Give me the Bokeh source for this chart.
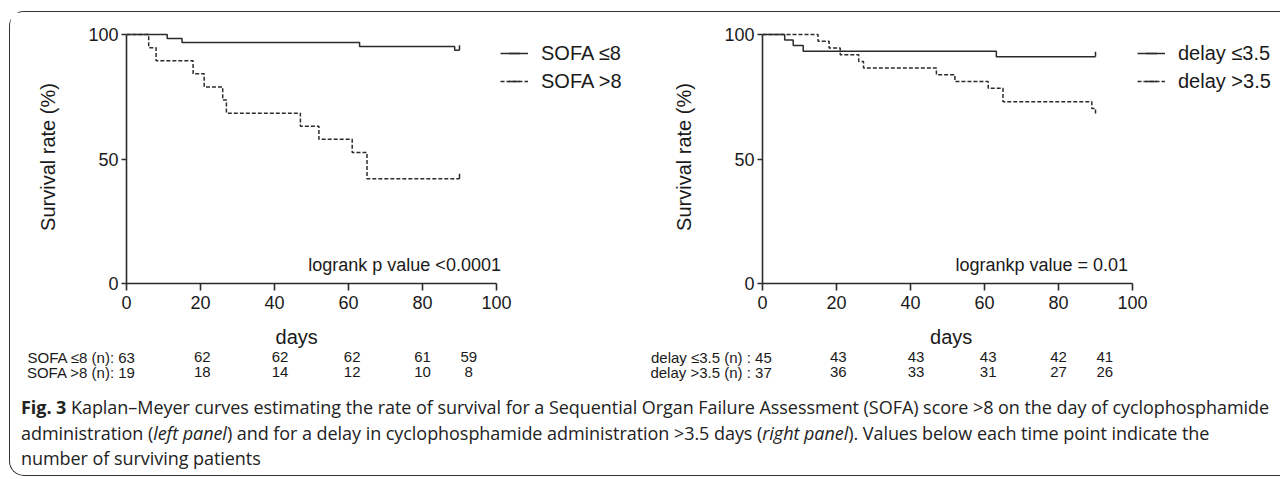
import numpy as np
from bokeh.plotting import figure
from bokeh.models import Range1d, FixedTicker, Legend, LegendItem, Label, Div
from bokeh.layouts import column, row
from bokeh.core.properties import value
from bokeh.embed import file_html
from bokeh.resources import INLINE

# ---------------- data ----------------
day_ticks = [0, 20, 40, 60, 80, 100]
surv_ticks = [0, 50, 100]

# left panel: SOFA
sofa_le8_time = [0, 11, 15, 63, 88.7, 90]
sofa_le8_surv = [100, 98.4, 96.8, 95.2, 93.7, 93.7]
sofa_gt8_time = [0, 6, 8, 18, 21, 26, 27, 47, 52, 61, 65, 90]
sofa_gt8_surv = [100, 94.7, 89.5, 84.2, 78.9, 73.7, 68.4, 63.2, 57.9, 52.6, 42.1, 42.1]
sofa_censor_time = [[90], [90]]
sofa_censor_surv = [[93.7], [42.1]]

# right panel: delay
delay_le_time = [0, 6, 8.3, 11, 63.2, 90]
delay_le_surv = [100, 97.8, 95.6, 93.3, 91.1, 91.1]
delay_gt_time = [0, 15, 18, 21, 26, 27.3, 47, 52, 61, 65, 89, 90]
delay_gt_surv = [100, 97.3, 94.6, 91.9, 89.2, 86.5, 83.8, 81.1, 78.4, 73.0, 70.3, 67.6]
delay_censor_time = [[90], []]
delay_censor_surv = [[91.1], []]

# numbers at risk
risk_points = [0, 20, 40, 60, 80, 90]
sofa_labels = ["SOFA \u22648", "SOFA >8"]
sofa_risk_prefix = ["SOFA \u22648 (n): ", "SOFA >8 (n): "]
sofa_risk = [[63, 62, 62, 62, 61, 59], [19, 18, 14, 12, 10, 8]]
delay_labels = ["delay \u22643.5", "delay >3.5"]
delay_risk_prefix = ["delay \u22643.5 (n) : ", "delay >3.5 (n) : "]
delay_risk = [[45, 43, 43, 43, 42, 41], [37, 36, 33, 31, 27, 26]]

sofa_logrank = "logrank p value <0.0001"
delay_logrank = "logrankp value = 0.01"

# ---------------- style / layout ----------------
FONT = "Liberation Sans"
INK = "#2b2b2b"
TXT = "#1a1a1a"
PX_DAY = 3.70
PX_PCT = 2.49
TOP = 18
FRAME_H = 253
BOTTOM = 35
H = TOP + FRAME_H + BOTTOM
TABLE_H = 66
# drawn column positions of the at-risk numbers (days)
risk_draw_x = [2.5, 20.5, 41.5, 61, 80, 92.5]
table_row_y = [27.5, 12.5]
days_y = 47.5


def panel(width, border_left, curves, censors, labels, prefixes, risk, logrank, logrank_x,
          legend_x, days_x):
    frame_w = width - border_left
    p = figure(width=width, height=H,
               x_range=Range1d(0, frame_w / PX_DAY),
               y_range=Range1d(0, FRAME_H / PX_PCT),
               min_border_left=border_left, min_border_right=0,
               min_border_top=TOP, min_border_bottom=BOTTOM,
               output_backend="svg", toolbar_location=None)
    p.background_fill_color = "white"
    p.border_fill_color = "white"
    p.outline_line_color = None
    p.xgrid.visible = False
    p.ygrid.visible = False

    p.xaxis.ticker = FixedTicker(ticks=day_ticks)
    p.yaxis.ticker = FixedTicker(ticks=surv_ticks)
    p.xaxis.bounds = (0, 100)
    p.yaxis.bounds = (0, 100)
    for ax in (p.xaxis[0], p.yaxis[0]):
        ax.axis_line_color = INK
        ax.axis_line_width = 1.6
        ax.major_tick_line_color = INK
        ax.major_tick_line_width = 1.6
        ax.minor_tick_line_color = None
        ax.major_tick_in = 0
        ax.major_label_text_font = FONT
        ax.major_label_text_font_size = "18px"
        ax.major_label_text_color = TXT
        ax.axis_label_text_font = FONT
        ax.axis_label_text_font_size = "20px"
        ax.axis_label_text_font_style = "normal"
        ax.axis_label_text_color = TXT
    p.xaxis.major_tick_out = 7
    p.yaxis.major_tick_out = 5
    p.xaxis.major_label_standoff = 5
    p.yaxis.major_label_standoff = 3
    p.yaxis.axis_label = "Survival rate (%)"
    p.yaxis.axis_label_standoff = 26

    dashes = ["solid", "4 2"]
    items = []
    for i, (t, s) in enumerate(curves):
        r = p.step(t, s, mode="after", line_color=INK, line_width=1.5, line_dash=dashes[i])
        ct, cs = censors[i]
        if ct:
            p.segment(x0=ct, y0=cs, x1=ct, y1=[v + 2.0 for v in cs], line_color=INK, line_width=1.5)
        tick = p.scatter(x=[np.nan], y=[np.nan], marker="dash", angle=np.pi / 2, size=7,
                         line_color=INK, line_width=1.5)
        items.append(LegendItem(label=labels[i], renderers=[r, tick]))

    leg = Legend(items=items, location=(legend_x, 188), glyph_width=28, glyph_height=28,
                 spacing=0, padding=0, margin=0, label_standoff=13,
                 label_text_font=FONT, label_text_font_size="20px", label_text_color=TXT,
                 border_line_alpha=0, background_fill_alpha=0)
    p.add_layout(leg)

    p.add_layout(Label(x=logrank_x, y=7.4, text=logrank, text_font=FONT, text_font_size="18px",
                       text_align="right", text_baseline="middle", text_color=TXT))

    # table of numbers at risk, on the same day scale
    t = figure(width=width, height=TABLE_H,
               x_range=Range1d(-border_left / PX_DAY, frame_w / PX_DAY),
               y_range=Range1d(0, TABLE_H),
               min_border=0, output_backend="svg", toolbar_location=None)
    t.axis.visible = False
    t.grid.visible = False
    t.outline_line_color = None
    t.background_fill_color = "white"
    t.border_fill_color = "white"
    t.text(x=[days_x], y=[days_y], text=["days"], text_font=value(FONT), text_font_size=value("20px"),
           text_align="center", text_baseline="middle", text_color=TXT)
    for r_i in range(2):
        xs, ys, txts = [], [], []
        for c_i, n in enumerate(risk[r_i]):
            txt = prefixes[r_i] + str(n) if c_i == 0 else str(n)
            xs.append(risk_draw_x[c_i])
            ys.append(table_row_y[r_i])
            txts.append(txt)
        t.text(x=xs[:1], y=ys[:1], text=txts[:1], text_font=value(FONT), text_font_size=value("15px"),
               text_align="right", text_baseline="middle", text_color=TXT)
        t.text(x=xs[1:], y=ys[1:], text=txts[1:], text_font=value(FONT), text_font_size=value("15px"),
               text_align="center", text_baseline="middle", text_color=TXT)
    return p, t


pL, tL = panel(630, 116,
               [(sofa_le8_time, sofa_le8_surv), (sofa_gt8_time, sofa_gt8_surv)],
               list(zip(sofa_censor_time, sofa_censor_surv)),
               sofa_labels, sofa_risk_prefix, sofa_risk, sofa_logrank, 101.2, 374, 46)
pR, tR = panel(640, 122,
               [(delay_le_time, delay_le_surv), (delay_gt_time, delay_gt_surv)],
               list(zip(delay_censor_time, delay_censor_surv)),
               delay_labels, delay_risk_prefix, delay_risk, delay_logrank, 98.8, 375, 51)

caption_html = (
    '<div style="font-family:\'Open Sans\';font-size:18px;line-height:25.5px;color:#222;'
    'white-space:nowrap;letter-spacing:-0.05px;padding:11px 0 0 11px;">'
    '<b>Fig. 3</b> Kaplan\u2013Meyer curves estimating the rate of survival for a Sequential Organ '
    'Failure Assessment (SOFA) score &gt;8 on the day of cyclophosphamide<br>'
    'administration (<i>left panel</i>) and for a delay in cyclophosphamide administration &gt;3.5 days '
    '(<i>right panel</i>). Values below each time point indicate the<br>'
    'number of surviving patients</div>'
)
cap = Div(text=caption_html, width=1270, height=91, margin=0)

layout = column(row(pL, pR), row(tL, tR), cap, margin=(11, 0, 0, 9),
                styles={"border-top": "1.5px solid #333", "border-left": "1.5px solid #333",
                        "border-bottom": "1.5px solid #333",
                        "border-radius": "15px 0 0 15px"})

open("out.html", "w").write(file_html(layout, INLINE))
